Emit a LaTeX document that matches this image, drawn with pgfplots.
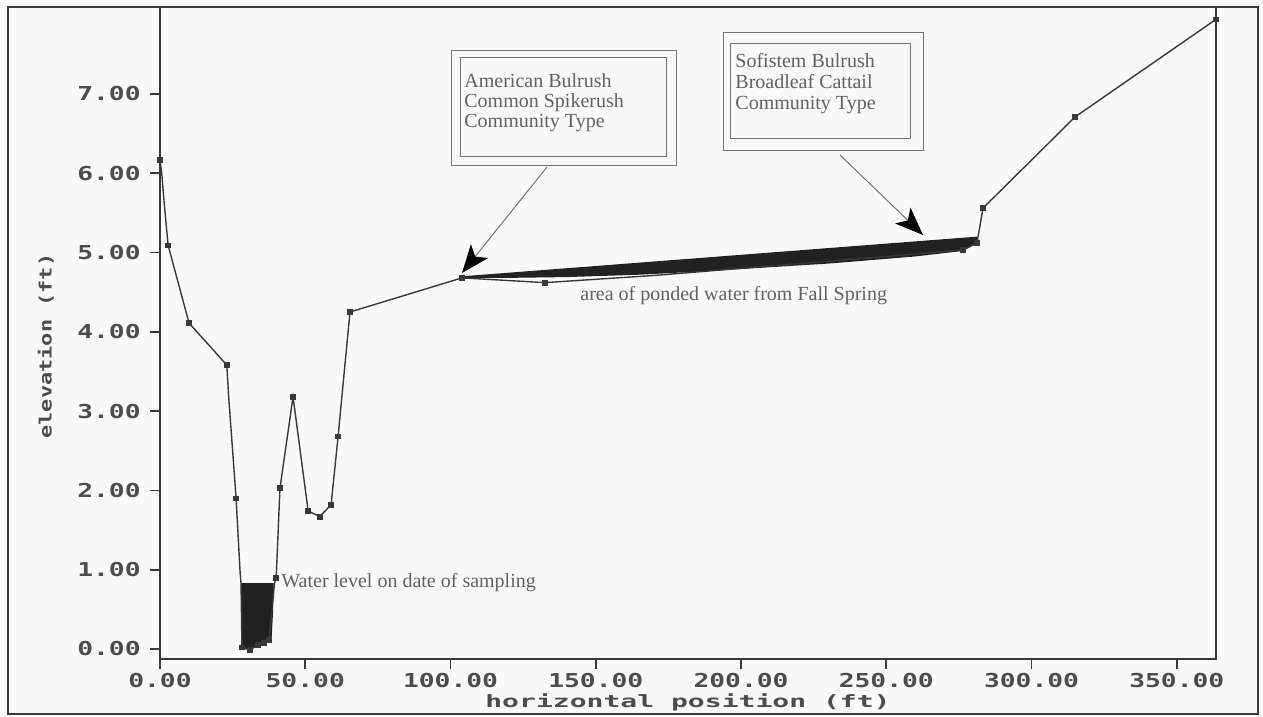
\documentclass[border=0pt]{standalone}
\usepackage{pgfplots}
\pgfplotsset{compat=1.18}
\usepackage{fontspec}
\setmainfont{Liberation Serif}
\newfontfamily\tickfont[FakeStretch=1.37]{DejaVu Sans Mono}
\newfontfamily\xlabfont[FakeStretch=1.65]{DejaVu Sans Mono}
\newfontfamily\ylabfont[FakeStretch=1.29]{DejaVu Sans Mono}
\usetikzlibrary{arrows.meta}
\definecolor{ink}{gray}{0.22}
\definecolor{labc}{gray}{0.30}
\definecolor{annot}{gray}{0.38}
\definecolor{boxc}{gray}{0.45}
\definecolor{paper}{gray}{0.975}
\definecolor{water}{gray}{0.13}

\begin{document}
\begin{tikzpicture}
\useasboundingbox (0,0) rectangle (631.5pt,358.5pt);
\fill[paper] (0,0) rectangle (631.5pt,358.5pt);

\begin{axis}[
  at={(80pt,29pt)}, anchor=south west,
  scale only axis, width=528pt, height=326pt,
  xmin=0, xmax=363.5, ymin=-0.126, ymax=8.096,
  axis line style={ink, line width=0.8pt},
  tick align=outside, major tick length=5pt,
  tick style={ink, line width=0.8pt},
  xtick pos=bottom, ytick pos=left,
  xtick={0,50,100,150,200,250,300,350},
  xticklabels={0.00,50.00,100.00,150.00,200.00,250.00,300.00,350.00},
  ytick={0,1,2,3,4,5,6,7},
  yticklabels={0.00,1.00,2.00,3.00,4.00,5.00,6.00,7.00},
  ticklabel style={font=\tickfont\bfseries\fontsize{9.6pt}{10pt}\selectfont, text=labc},
  xticklabel style={anchor=north, inner sep=0pt, yshift=-2pt},
  yticklabel style={anchor=east, inner sep=0pt, xshift=-4.5pt},
  xlabel={horizontal position (ft)},
  ylabel={elevation (ft)},
  every axis x label/.style={at={(axis description cs:0.5,0)}, anchor=base, yshift=-24pt,
    font=\xlabfont\bfseries\fontsize{8.5pt}{10pt}\selectfont, text=labc},
  every axis y label/.style={at={(axis description cs:-0.108,0.48)}, anchor=center, rotate=90,
    font=\ylabfont\bfseries\fontsize{8.5pt}{10pt}\selectfont, text=labc},
  clip=false,
]
% ponded water band
\addplot[fill=water, draw=none] coordinates {
  (104.0,4.70) (281.2,5.20) (281.2,5.12) (276.4,5.02) (260,4.95) (230,4.86)
  (186,4.76) (165,4.72) (140,4.69) (120,4.68) (104.0,4.68)} --cycle;
% water in channel
\addplot[fill=water, draw=none] coordinates {
  (27.8,0.83) (39.1,0.83) (38.9,0.45) (38.4,0.12) (37.5,0.11) (35.8,0.08)
  (33.7,0.05) (31.0,-0.01) (28.2,0.0) (28.0,0.40)} --cycle;
% ground profile
\addplot[ink, line width=0.7pt] coordinates {
  (0,6.17) (0.6,6.00) (1.5,5.60) (2.8,5.09) (10.0,4.11) (23.0,3.58) (23.6,3.20)
  (26.2,1.90) (27.6,0.95) (27.9,0.83) (28.2,0.02) (31.0,-0.01) (33.7,0.05)
  (35.8,0.08) (37.5,0.11) (38.6,0.50) (39.4,0.83) (40.0,0.90) (41.3,2.03)
  (45.8,3.18) (51.0,1.74) (55.0,1.67) (58.9,1.82) (61.3,2.68) (65.4,4.25)
  (104.0,4.68) (132.5,4.62) (170,4.71) (276.4,5.03) (281.2,5.12) (281.6,5.20)
  (283.3,5.56) (315.0,6.71) (363.5,7.94)};
\addplot[only marks, mark=square*, mark size=1.2pt, ink] coordinates {
  (0,6.17) (2.8,5.09) (10.0,4.11) (23.0,3.58) (26.2,1.90) (28.2,0.02)
  (31.0,-0.01) (33.7,0.05) (35.8,0.08) (37.5,0.11) (40.0,0.90) (41.3,2.03)
  (45.8,3.18) (51.0,1.74) (55.0,1.67) (58.9,1.82) (61.3,2.68) (65.4,4.25)
  (104.0,4.68) (132.5,4.62) (276.4,5.03) (281.2,5.12) (283.3,5.56)
  (315.0,6.71) (363.5,7.94)};
\end{axis}

\begin{scope}[x=0.5pt, y=-0.5pt, shift={(0pt,358.5pt)}]
  % outer frame
  \draw[ink, line width=1pt] (8,7) rectangle (1258,714);
  % box 1
  \draw[boxc, line width=0.5pt] (451,51) rectangle (676,166);
  \draw[boxc, line width=0.5pt] (460,58) rectangle (666,157);
  \node[anchor=base west, inner sep=0pt, text=annot, font=\fontsize{10pt}{12pt}\selectfont] at (464,88) {American Bulrush};
  \node[anchor=base west, inner sep=0pt, text=annot, font=\fontsize{10pt}{12pt}\selectfont] at (464,108) {Common Spikerush};
  \node[anchor=base west, inner sep=0pt, text=annot, font=\fontsize{10pt}{12pt}\selectfont] at (464,128) {Community Type};
  % box 2
  \draw[boxc, line width=0.5pt] (723,33) rectangle (923,151);
  \draw[boxc, line width=0.5pt] (730,44) rectangle (910,139);
  \node[anchor=base west, inner sep=0pt, text=annot, font=\fontsize{10pt}{12pt}\selectfont] at (735,68) {Sofistem Bulrush};
  \node[anchor=base west, inner sep=0pt, text=annot, font=\fontsize{10pt}{12pt}\selectfont] at (735,89) {Broadleaf Cattail};
  \node[anchor=base west, inner sep=0pt, text=annot, font=\fontsize{10pt}{12pt}\selectfont] at (735,110) {Community Type};
  % arrows
  \draw[boxc, line width=0.5pt, -{Stealth[length=14pt, width=11pt, inset=3.5pt, color=black]}] (547,167) -- (462,273);
  \draw[boxc, line width=0.5pt, -{Stealth[length=14pt, width=11pt, inset=3.5pt, color=black]}] (840,155) -- (923,235);
  % other annotations
  \node[anchor=base west, inner sep=0pt, text=annot, font=\fontsize{10pt}{12pt}\selectfont] at (281,588) {Water level on date of sampling};
  \node[anchor=base west, inner sep=0pt, text=annot, font=\fontsize{10pt}{12pt}\selectfont] at (580,301) {area of ponded water from Fall Spring};
\end{scope}
\end{tikzpicture}
\end{document}
